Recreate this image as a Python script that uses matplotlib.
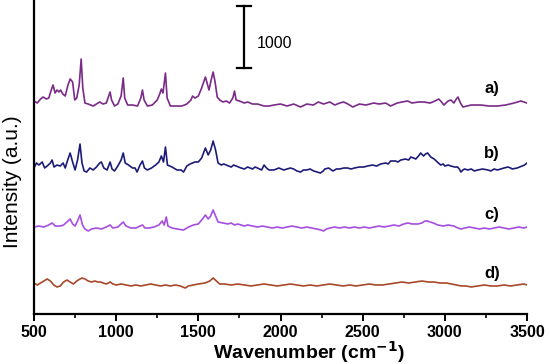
import matplotlib
matplotlib.use("Agg")
import matplotlib.pyplot as plt
from matplotlib.ticker import MultipleLocator

# ---- data ----
a_wn = [500,520,540,555,575,590,605,616,628,640,652,662,675,690,705,720,735,748,760,775,787,797,810,830,860,880,900,920,940,955,963,972,990,1010,1030,1043,1052,1070,1100,1130,1150,1160,1170,1190,1220,1250,1265,1275,1285,1300,1310,1330,1360,1400,1430,1455,1465,1480,1500,1520,1543,1555,1565,1578,1590,1602,1615,1630,1650,1670,1690,1710,1720,1730,1750,1780,1800,1830,1860,1900,1930,1960,2000,
        2040,2080,2122,2160,2200,2230,2262,2300,2330,2360,2384,2410,2440,2480,2520,2567,2600,2640,2670,2710,2740,2774,2800,2840,2872,2910,2940,2963,2980,2994,3020,3037,3055,3070,3080,3095,3110,3160,3220,3270,3320,3370,3421,3463,3480,3500]
a_int = [3436,3403,3468,3500,3468,3484,3613,3694,3565,3613,3581,3613,3549,3516,3678,3791,3742,3452,3484,3694,4113,3645,3403,3387,3355,3387,3420,3387,3403,3516,3581,3452,3355,3387,3516,3807,3484,3371,3371,3355,3484,3613,3452,3355,3371,3452,3549,3629,3565,3887,3484,3355,3355,3355,3387,3452,3516,3484,3516,3645,3823,3710,3613,3774,3903,3742,3500,3452,3420,3436,3403,3484,3597,3452,3436,3403,3420,3387,3387,3355,3355,3371,3387,
         3355,3387,3339,3387,3371,3420,3387,3420,3371,3403,3420,3387,3339,3387,3371,3403,3387,3403,3355,3403,3420,3436,3403,3420,3420,3403,3436,3468,3420,3371,3436,3452,3403,3468,3500,3403,3339,3371,3371,3355,3355,3371,3403,3436,3420,3403]

b_wn = [500,515,530,550,565,580,600,610,622,640,660,677,690,705,720,735,750,765,780,792,805,820,840,860,880,900,910,925,945,963,975,990,1010,1030,1043,1055,1075,1100,1115,1127,1145,1160,1172,1190,1215,1240,1260,1275,1288,1300,1312,1340,1370,1395,1410,1430,1450,1480,1500,1520,1543,1560,1575,1590,1605,
        1620,1640,1655,1670,1685,1700,1715,1730,1745,1760,1780,1800,1815,1830,1845,1860,1885,1900,1915,1930,1960,1975,1990,2005,2020,2040,2060,2080,2100,2122,
        2140,2160,2180,2202,2222,2243,2260,2270,2293,2310,2320,2340,2360,2385,2408,2430,2450,2480,2506,2530,2560,2585,2610,2640,2655,2670,2700,2715,2732,2760,
        2780,2793,2810,2823,2840,2853,2870,2882,2895,2915,2935,2955,2975,2990,3000,3020,3037,3060,3078,3088,3098,3110,3120,3140,3160,3180,3200,3230,3262,3280,
        3300,3320,3340,3360,3384,3400,3410,3440,3455,3470,3485,3500]
b_int = [2355,2436,2403,2452,2355,2387,2436,2484,2371,2403,2387,2436,2355,2484,2597,2452,2323,2484,2742,2436,2307,2290,2355,2323,2371,2436,2452,2355,2323,2452,2339,2307,2387,2484,2597,2436,2403,2355,2355,2290,2403,2468,2355,2323,2355,2403,2452,2549,2452,2694,2403,2371,2323,2323,2290,2387,2420,2452,2452,2516,2678,2565,2645,2790,2645,
         2436,2403,2420,2403,2387,2371,2403,2387,2371,2355,2339,2371,2355,2339,2371,2355,2323,2403,2355,2323,2323,2339,2355,2339,2323,2339,2355,2339,2307,2290,
         2323,2323,2339,2307,2290,2274,2307,2339,2355,2323,2307,2339,2339,2355,2355,2339,2355,2371,2371,2387,2403,2387,2420,2436,2420,2468,2468,2452,2484,2500,
         2484,2532,2516,2500,2549,2597,2549,2580,2597,2532,2500,2450,2403,2420,2387,2403,2387,2371,2371,2339,2290,2323,2339,2323,2339,2307,2323,2339,2323,2307,
         2339,2323,2339,2355,2371,2355,2339,2355,2371,2387,2403,2436]

c_wn = [500,530,560,590,610,630,660,680,700,720,735,750,765,780,795,810,830,850,880,910,940,963,980,1010,1030,1043,1060,1090,1120,1145,1160,1175,1200,1230,1260,1280,1292,1305,1315,1340,1370,1410,1440,1470,1500,1520,1543,1560,1575,1590,1605,
        1620,1650,1680,1700,1720,1740,1760,1780,1800,1830,1860,1890,1920,1950,1980,2010,2040,2070,2100,2130,2160,2190,2220,2245,2262,2280,2300,2330,2360,2390,
        2420,2450,2480,2510,2540,2570,2600,2630,2660,2690,2720,2750,2775,2800,2836,2860,2880,2895,2910,2930,2957,2990,3020,3055,3080,3098,3120,3150,3180,3210,
        3240,3270,3300,3330,3360,3390,3420,3450,3480,3500]
c_int = [1403,1419,1403,1436,1468,1419,1419,1436,1484,1532,1452,1419,1500,1597,1436,1371,1339,1371,1387,1371,1403,1436,1387,1403,1452,1484,1419,1387,1387,1419,1436,1387,1387,1403,1436,1500,1436,1565,1419,1387,1371,1355,1403,1436,1452,1516,1597,1532,1581,1678,1581,
         1484,1468,1452,1468,1436,1452,1436,1419,1436,1419,1403,1419,1403,1387,1403,1387,1403,1419,1403,1387,1403,1387,1371,1355,1339,1371,1387,1403,1387,1403,
         1387,1403,1387,1403,1387,1403,1419,1403,1419,1436,1419,1452,1468,1452,1452,1468,1500,1500,1484,1468,1436,1419,1436,1419,1387,1371,1387,1403,1387,1371,
         1387,1371,1387,1403,1387,1371,1387,1403,1387,1403]

d_wn = [500,520,540,560,580,600,620,640,660,680,700,720,740,760,780,793,810,830,850,870,890,905,920,940,963,980,
        1000,1030,1060,1090,1120,1150,1180,1210,1240,1270,1300,1330,1360,1390,1420,1440,1470,1500,
        1540,1570,1590,1610,1630,1660,
        1700,1740,1780,1820,1860,1900,1940,1980,2020,2060,2100,2140,2180,2220,2260,2300,2340,2380,2420,2460,
        2500,2540,2580,2620,2660,2700,2740,2780,2820,2860,2900,2935,2970,3010,3040,3070,3100,3130,3160,3200,
        3240,3280,3320,3360,3400,3440,3480,3500]
d_int = [500,468,500,532,565,532,468,436,452,516,548,516,484,532,565,581,565,532,516,532,516,516,500,484,516,484,
         468,484,468,452,468,452,468,484,468,452,468,452,468,452,419,452,468,484,
         500,532,581,532,484,484,
         468,484,468,452,468,484,468,452,468,484,468,452,468,452,468,484,468,452,468,452,
         468,484,468,468,484,500,516,500,516,532,516,516,500,500,484,468,452,452,436,452,
         468,452,452,468,452,468,484,468]

labels = ["a)", "b)", "c)", "d)"]
label_int = [3645, 2597, 1597, 661]
colors = ["#7a2a88", "#1c1c78", "#a64ee0", "#a8482a"]
scale_value = 1000

fig = plt.figure(figsize=(5.5, 3.64), dpi=100)
ax = fig.add_axes([34/550, 50/364, (527-34)/550, 314/364])

series = [(a_wn, a_int), (b_wn, b_int), (c_wn, c_int), (d_wn, d_int)]
for (wn, it), col, lab, ly in zip(series, colors, labels, label_int):
    ax.plot(wn, it, color=col, lw=1.2)
    ax.text(3287, ly, lab, ha="center", va="center", fontsize=12,
            fontweight="bold", family="Liberation Sans")

# scale bar
sb_x = 1780
sb_y0 = 3968
ax.plot([sb_x, sb_x], [sb_y0, sb_y0 + scale_value], color="black", lw=1.6)
ax.plot([sb_x - 43, sb_x + 43], [sb_y0, sb_y0], color="black", lw=1.6)
ax.plot([sb_x - 43, sb_x + 43], [sb_y0 + scale_value, sb_y0 + scale_value], color="black", lw=1.6)
ax.text(1855, sb_y0 + scale_value * 0.4, str(scale_value), ha="left", va="center",
        fontsize=11.5, family="Liberation Sans")

ax.set_xlim(500, 3500)
ax.set_ylim(0, 5065)
ax.xaxis.set_major_locator(MultipleLocator(500))
ax.xaxis.set_minor_locator(MultipleLocator(250))
ax.set_yticks([])
for s in ["top", "right"]:
    ax.spines[s].set_visible(False)
for s in ["left", "bottom"]:
    ax.spines[s].set_linewidth(1.6)
ax.tick_params(axis="x", which="major", length=5, width=1.4, pad=3)
ax.tick_params(axis="x", which="minor", length=3, width=1.2)
for t in ax.get_xticklabels():
    t.set_fontweight("bold")
    t.set_fontsize(11.5)
    t.set_family("Liberation Sans")

ax.set_xlabel("Wavenumber (cm$^{\\mathbf{-1}}$)", fontsize=14, fontweight="bold",
              family="Liberation Sans", va="top")
ax.xaxis.set_label_coords(0.558, -0.08)
ax.set_ylabel("Intensity (a.u.)", fontsize=15, family="Liberation Sans")
ax.yaxis.set_label_coords(-0.025, 0.42)

fig.savefig("out.png", dpi=100)
